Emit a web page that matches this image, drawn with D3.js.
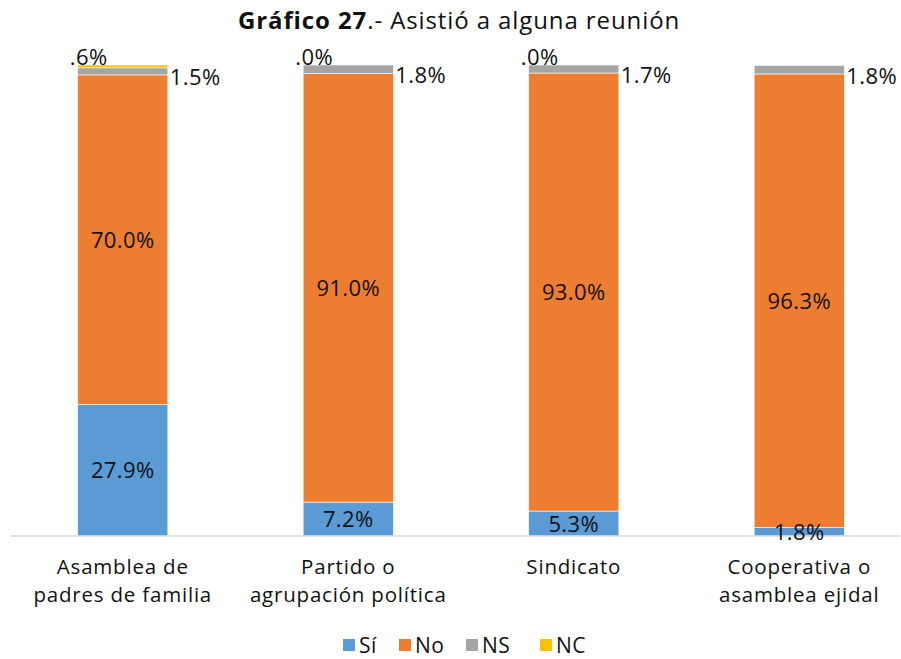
<!DOCTYPE html>
<html>
<head>
<meta charset="utf-8">
<script src="https://cdn.jsdelivr.net/npm/d3@7"></script>
<style>
  body { margin: 0; background: #fff; }
  text { font-family: "Open Sans", sans-serif; fill: #111; letter-spacing: 0.4px; }
</style>
</head>
<body>
<script>
var width = 901,
    height = 659;

// data
var categories = [["Asamblea de", "padres de familia"], ["Partido o", "agrupación política"], ["Sindicato"], ["Cooperativa o", "asamblea ejidal"]];
var si = [27.9, 7.2, 5.3, 1.8];
var no = [70.0, 91.0, 93.0, 96.3];
var ns = [1.5, 1.8, 1.7, 1.8];
var nc = [0.6, 0.0, 0.0, null];
var seriesNames = ["Sí", "No", "NS", "NC"];
var colors = ["#5B9BD5", "#ED7D31", "#A5A5A5", "#FFC000"];

var rows = categories.map(function(c, i) {
  return { i: i, Sí: si[i], No: no[i], NS: ns[i], NC: nc[i] || 0, ncRaw: nc[i] };
});

var svg = d3.select("body").append("svg")
    .attr("width", width)
    .attr("height", height);

var x = d3.scaleBand()
    .domain(d3.range(categories.length))
    .range([10, 912])
    .paddingInner(0.6)
    .paddingOuter(0.3);

var y = d3.scaleLinear()
    .domain([0, 100])
    .range([536, 65]);

var stack = d3.stack().keys(seriesNames);
var layers = stack(rows);

// title
var title = svg.append("text")
    .attr("x", 459)
    .attr("y", 29)
    .attr("text-anchor", "middle")
    .style("font-size", "24px")
    .style("letter-spacing", "0.9px");
title.append("tspan").style("font-weight", "bold").text("Gráfico 27");
title.append("tspan").text(".- Asistió a alguna reunión");

// bars
svg.append("g").selectAll("g")
  .data(layers)
  .enter().append("g")
    .attr("fill", function(d, i) { return colors[i]; })
  .selectAll("rect")
  .data(function(d) { return d; })
  .enter().append("rect")
    .attr("x", function(d, i) { return x(i); })
    .attr("y", function(d) { return y(d[1]); })
    .attr("height", function(d) { return y(d[0]) - y(d[1]); })
    .attr("width", x.bandwidth())
    .attr("stroke", "#fff")
    .attr("stroke-width", 0.6);

// axis baseline
svg.append("line")
    .attr("x1", 10).attr("x2", 900)
    .attr("y1", y(0)).attr("y2", y(0))
    .attr("stroke", "#d9d9d9")
    .attr("stroke-width", 1.5);

function fmt(v) {
  var s = v.toFixed(1) + "%";
  return v < 1 ? s.replace(/^0/, "") : s;
}

// Sí and No labels, centred in segments
[0, 1].forEach(function(k) {
  svg.append("g").selectAll("text")
    .data(layers[k])
    .enter().append("text")
      .attr("x", function(d, i) { return x(i) + x.bandwidth() / 2; })
      .attr("y", function(d) { return (y(d[0]) + y(d[1])) / 2 + 8; })
      .attr("text-anchor", "middle")
      .style("font-size", "22px")
      .text(function(d) { return fmt(d[1] - d[0]); });
});

// NS labels to the right
svg.append("g").selectAll("text")
  .data(layers[2])
  .enter().append("text")
    .attr("x", function(d, i) { return x(i) + x.bandwidth() + 2; })
    .attr("y", function(d) { return (y(d[0]) + y(d[1])) / 2 + 14; })
    .style("font-size", "22px")
    .text(function(d) { return fmt(d[1] - d[0]); });

// NC labels above left
svg.append("g").selectAll("text")
  .data(rows.filter(function(r) { return r.ncRaw != null; }))
  .enter().append("text")
    .attr("x", function(d) { return x(d.i) + 11; })
    .attr("y", 65)
    .attr("text-anchor", "middle")
    .style("font-size", "22px")
    .text(function(d) { return fmt(d.ncRaw); });

// category labels, one text per line
var catG = svg.append("g").selectAll("g")
  .data(categories)
  .enter().append("g");
catG.selectAll("text")
  .data(function(d, i) { return d.map(function(line) { return { line: line, i: i }; }); })
  .enter().append("text")
    .attr("x", function(d) { return x(d.i) + x.bandwidth() / 2; })
    .attr("y", function(d, j) { return 574 + j * 28; })
    .attr("text-anchor", "middle")
    .style("font-size", "20.5px")
    .style("letter-spacing", "0.8px")
    .text(function(d) { return d.line; });

// legend
var legendX = [343, 399, 466, 540];
var legend = svg.append("g").selectAll("g")
  .data(seriesNames)
  .enter().append("g")
    .attr("transform", function(d, i) { return "translate(" + legendX[i] + ",0)"; });
legend.append("rect")
    .attr("y", 639)
    .attr("width", 12).attr("height", 12)
    .attr("fill", function(d, i) { return colors[i]; });
legend.append("text")
    .attr("x", 16)
    .attr("y", 653)
    .style("font-size", "21px")
    .text(function(d) { return d; });
</script>
</body>
</html>
